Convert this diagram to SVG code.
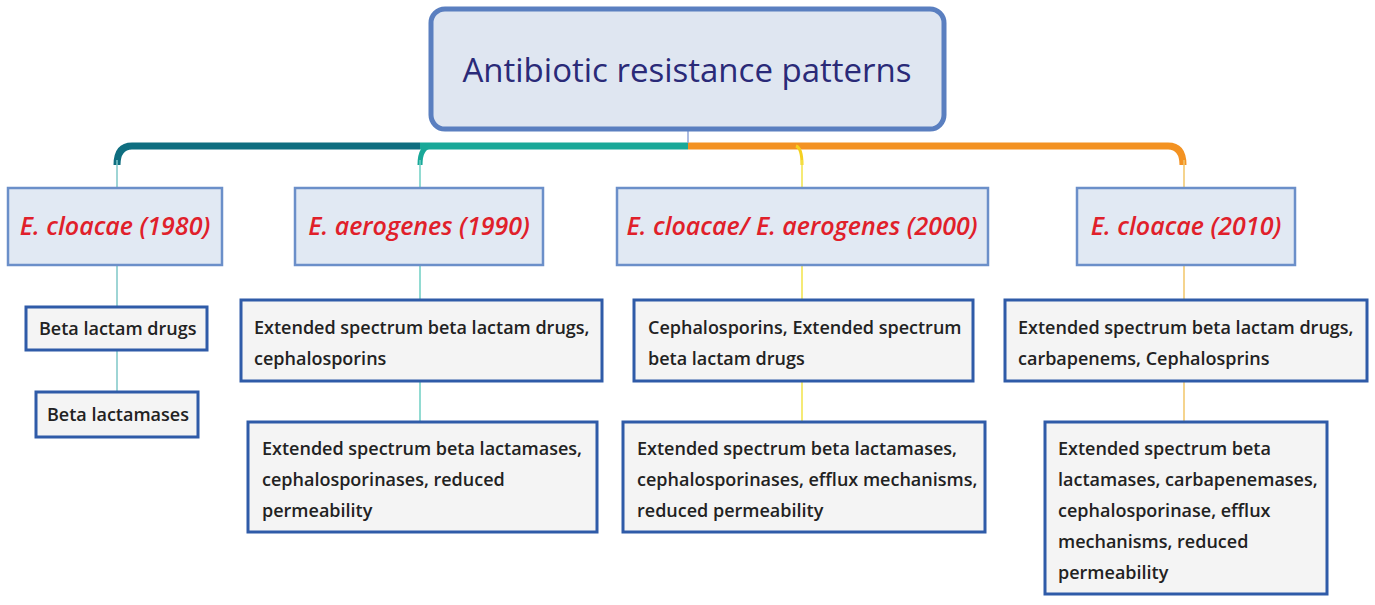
<svg xmlns="http://www.w3.org/2000/svg" width="1375" height="605" viewBox="0 0 1375 605">
<style>
.l1{fill:#e1e9f3;stroke:#6b8fc9;stroke-width:2.5}
.l2{fill:#f4f4f4;stroke:#2f5ba8;stroke-width:3}
.t1{font-family:"Open Sans",sans-serif;font-style:italic;font-size:25px;fill:#e0202a;text-anchor:middle;font-weight:600}
.t2{font-family:"Open Sans",sans-serif;font-size:18px;fill:#222;font-weight:600}
.c{fill:none;stroke-width:1.5}
</style>
<rect width="1375" height="605" fill="#fff"/>
<g id="connectors">
<path d="M117 165 Q117 146 132 146 L420 146" fill="none" stroke="#0f6e80" stroke-width="7"/>
<path d="M420 146 L688 146" fill="none" stroke="#19a898" stroke-width="7"/>
<path d="M420 165 Q420 146 432 146" fill="none" stroke="#19a898" stroke-width="5"/>
<path d="M688 146 L1168 146 Q1183 146 1183 165" fill="none" stroke="#f39222" stroke-width="7"/>
<path d="M796 146 Q802 148 802 165" fill="none" stroke="#f5d020" stroke-width="3"/>
<line x1="688" y1="130" x2="688" y2="143" stroke="#8fa4d8" stroke-width="1.5"/>
<path class="c" stroke="#7fc8c8" d="M117 160 V188 M117 265 V307 M117 350 V392"/>
<path class="c" stroke="#6fd0c4" d="M420 160 V188 M420 265 V300 M420 381 V422"/>
<path class="c" stroke="#f2e34a" d="M802 160 V188 M802 265 V300 M802 381 V422"/>
<path class="c" stroke="#f2c66a" d="M1184 160 V188 M1184 265 V300 M1184 381 V422"/>
</g>
<g id="title">
<rect x="431" y="9" width="513" height="120" rx="14" fill="#dfe6f1" stroke="#5a7fc0" stroke-width="5"/>
<text x="687" y="82" font-family="'Open Sans',sans-serif" font-size="33" fill="#2a2a78" text-anchor="middle">Antibiotic resistance patterns</text>
</g>
<g id="n1980"><rect class="l1" x="8" y="188" width="214" height="77"/><text class="t1" x="115" y="235">E. cloacae (1980)</text></g>
<g id="n1990"><rect class="l1" x="295" y="188" width="248" height="77"/><text class="t1" x="419" y="235">E. aerogenes (1990)</text></g>
<g id="n2000"><rect class="l1" x="617" y="188" width="371" height="77"/><text class="t1" x="802" y="235">E. cloacae/ E. aerogenes (2000)</text></g>
<g id="n2010"><rect class="l1" x="1077" y="188" width="218" height="77"/><text class="t1" x="1186" y="235">E. cloacae (2010)</text></g>
<g id="d1980"><rect class="l2" x="26" y="307" width="181" height="43"/><text class="t2" x="39" y="335">Beta lactam drugs</text></g>
<g id="m1980"><rect class="l2" x="36" y="392" width="162" height="45"/><text class="t2" x="47" y="421">Beta lactamases</text></g>
<g id="d1990"><rect class="l2" x="241" y="300" width="361" height="81"/><text class="t2" x="254" y="334">Extended spectrum beta lactam drugs,<tspan x="254" dy="31">cephalosporins</tspan></text></g>
<g id="m1990"><rect class="l2" x="248" y="422" width="349" height="110"/><text class="t2" x="262" y="455">Extended spectrum beta lactamases,<tspan x="262" dy="31">cephalosporinases, reduced</tspan><tspan x="262" dy="31">permeability</tspan></text></g>
<g id="d2000"><rect class="l2" x="634" y="300" width="339" height="81"/><text class="t2" x="648" y="334">Cephalosporins, Extended spectrum<tspan x="648" dy="31">beta lactam drugs</tspan></text></g>
<g id="m2000"><rect class="l2" x="623" y="422" width="362" height="110"/><text class="t2" x="637" y="455">Extended spectrum beta lactamases,<tspan x="637" dy="31">cephalosporinases, efflux mechanisms,</tspan><tspan x="637" dy="31">reduced permeability</tspan></text></g>
<g id="d2010"><rect class="l2" x="1005" y="300" width="362" height="81"/><text class="t2" x="1018" y="334">Extended spectrum beta lactam drugs,<tspan x="1018" dy="31">carbapenems, Cephalosprins</tspan></text></g>
<g id="m2010"><rect class="l2" x="1045" y="422" width="282" height="172"/><text class="t2" x="1058" y="455">Extended spectrum beta<tspan x="1058" dy="31">lactamases, carbapenemases,</tspan><tspan x="1058" dy="31">cephalosporinase, efflux</tspan><tspan x="1058" dy="31">mechanisms, reduced</tspan><tspan x="1058" dy="31">permeability</tspan></text></g>
</svg>
